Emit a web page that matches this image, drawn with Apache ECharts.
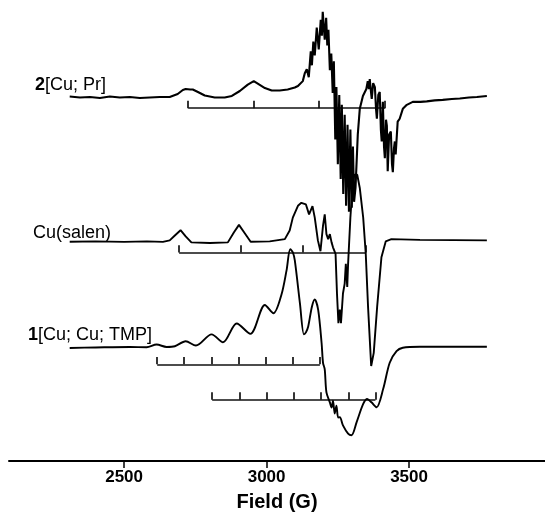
<!DOCTYPE html>
<html>
<head>
<meta charset="utf-8">
<script src="https://cdn.jsdelivr.net/npm/echarts@6/dist/echarts.min.js"></script>
<style>
  html, body { margin: 0; padding: 0; background: #fff; }
  #chart { width: 545px; height: 517px; }
</style>
</head>
<body>
<div id="chart"></div>
<script>
// Espectros EPR: [campo (G), intensidad (u.a.)]
const espectroPr = [
  [2309, 368.5], [2345, 367.5], [2380, 368], [2415, 367], [2450, 368.5], [2485, 367.5],
  [2520, 368], [2555, 367], [2590, 367.5], [2625, 368], [2660, 368], [2688, 371],
  [2706, 375], [2716, 376], [2723, 377], [2732, 375.5], [2741, 375.5], [2759, 373],
  [2783, 369.5], [2818, 367.5], [2853, 367.5], [2878, 369], [2906, 374], [2934, 380.5],
  [2955, 384], [2969, 381.5], [2994, 377], [3018, 374.5], [3046, 374.5], [3074, 375.5],
  [3099, 377.5], [3110, 379], [3117, 380.5], [3127, 384], [3134, 392], [3141, 396],
  [3148, 388], [3155, 414], [3159, 400], [3164, 424], [3169, 410], [3176, 438],
  [3183, 416], [3190, 446], [3194, 430], [3197, 454], [3204, 426], [3209, 448],
  [3213, 420], [3217, 436], [3222, 395], [3227, 412], [3232, 372], [3236, 404],
  [3241, 325], [3245, 378], [3250, 300], [3255, 370], [3260, 285], [3264, 360],
  [3269, 270], [3274, 350], [3279, 258], [3284, 340], [3289, 252], [3294, 335],
  [3299, 256], [3303, 318], [3307, 262], [3312, 276], [3320, 330], [3327, 356],
  [3338, 369], [3345, 368], [3350, 376],
  [3355, 384], [3359, 376], [3362, 386], [3366, 374], [3369, 366], [3374, 382],
  [3380, 378], [3384, 356], [3387, 346], [3392, 370], [3397, 373], [3401, 335],
  [3404, 323], [3408, 363], [3412, 318], [3415, 306], [3419, 345], [3422, 339],
  [3425, 293], [3430, 330], [3436, 333], [3440, 300], [3443, 292], [3447, 316],
  [3450, 323], [3453, 310], [3460, 343], [3467, 346], [3478, 356], [3492, 360],
  [3513, 363], [3540, 363], [3562, 363.5], [3590, 364.5], [3618, 365], [3650, 366],
  [3678, 366.5], [3710, 367.5], [3738, 368], [3773, 369]
];

const espectroSalen = [
  [2309, 221.7], [2400, 222], [2500, 221.5], [2580, 222], [2636, 221.5], [2660, 223],
  [2678, 228], [2698, 233.3], [2716, 227], [2736, 221], [2801, 220.3], [2864, 221],
  [2885, 231], [2903, 238.7], [2924, 230], [2944, 221.7], [3011, 222], [3064, 224.3],
  [3081, 233], [3092, 246], [3110, 258], [3122, 261], [3138, 259.3], [3149, 249.3],
  [3161, 257.7], [3169, 246], [3180, 223], [3189, 212], [3198, 238], [3204, 249.3],
  [3210, 229.3], [3216, 224.3], [3222, 229.3], [3228, 221], [3233, 216], [3242, 209.3],
  [3247, 169.3], [3252, 139.3], [3257, 153], [3261, 139.3], [3268, 169.3], [3274, 179.3],
  [3278, 199.3], [3283, 176], [3286, 199.3], [3294, 246], [3301, 276], [3308, 289.3],
  [3318, 289.3], [3327, 276], [3339, 246], [3348, 209.3], [3356, 156], [3367, 96],
  [3376, 109.3], [3388, 156], [3403, 206], [3418, 222], [3438, 224.3], [3538, 223.5],
  [3773, 223]
];

const espectroTmp = [
  [2309, 114.3], [2400, 114.8], [2520, 115.3], [2579, 115], [2614, 117.7], [2649, 115.3],
  [2678, 116], [2716, 121], [2752, 116.7], [2807, 128], [2847, 120], [2895, 139],
  [2943, 128.5], [2994, 157.7], [3024, 149.3], [3052, 168], [3070, 192.7], [3083, 214],
  [3092, 211], [3099, 202.7], [3117, 159.3], [3131, 128], [3138, 130], [3146, 136],
  [3159, 156], [3169, 163.3], [3181, 152.7], [3193, 119.3], [3198, 99.3], [3204, 92.7],
  [3210, 69.3], [3222, 59.3], [3228, 54], [3233, 61], [3239, 48], [3245, 56],
  [3251, 44], [3257, 44.3], [3268, 36], [3286, 27.7], [3298, 26], [3316, 39.3],
  [3339, 57.7], [3353, 62.7], [3368, 59.3], [3386, 54.3], [3409, 72.7], [3432, 99.3],
  [3456, 111], [3478, 114.5], [3538, 115.5], [3773, 115.5]
];

// Diagramas de barras (posiciones hiperfinas, G) y su nivel (u.a.)
const barrasPr = [2725, 2955, 3184, 3416];
const nivelPr = 356.7;
const barrasSalen = [2693, 2908, 3128, 3348];
const nivelSalen = 210.7;
const barrasTmpA = [2616, 2711, 2807, 2902, 2997, 3093, 3187];
const nivelTmpA = 97.7;
const barrasTmpB = [2809, 2905, 3001, 3097, 3190, 3287, 3382];
const nivelTmpB = 62;
const altoBarra = 7.5;

const marcasCampo = [2500, 3000, 3500];

const fuente = "'Liberation Sans', Arial, sans-serif";

// Construye los segmentos de un diagrama de barras
function segmentos(barras, nivel) {
  let segs = [{ coords: [[barras[0], nivel], [barras[barras.length - 1], nivel]] }];
  barras.forEach(b => {
    segs.push({ coords: [[b, nivel], [b, nivel + altoBarra]] });
  });
  return segs;
}

function serieEspectro(datos, suave, ancho) {
  return {
    type: 'line',
    data: datos,
    showSymbol: false,
    smooth: suave,
    lineStyle: { color: '#000', width: ancho },
    silent: true
  };
}

function serieBarras(barras, nivel) {
  return {
    type: 'lines',
    coordinateSystem: 'cartesian2d',
    data: segmentos(barras, nivel),
    lineStyle: { color: '#111', width: 1.7, opacity: 1 },
    silent: true
  };
}

echarts.init(document.querySelector("#chart")).setOption({
  animation: false,
  grid: { left: 9, right: 0, top: 0, bottom: 51 },
  xAxis: {
    type: 'value',
    min: 2096,
    max: 3977,
    name: 'Field (G)',
    nameLocation: 'middle',
    nameGap: 31,
    nameTextStyle: { fontFamily: fuente, fontSize: 20, fontWeight: 'bold', color: '#000' },
    axisLine: { lineStyle: { color: '#000', width: 2 } },
    axisTick: { customValues: marcasCampo, length: 7, lineStyle: { color: '#000', width: 1.5 } },
    axisLabel: {
      customValues: marcasCampo, fontFamily: fuente, fontSize: 17, fontWeight: 'bold', color: '#000', margin: 8,
      formatter: v => String(v)
    },
    splitLine: { show: false }
  },
  yAxis: {
    type: 'value',
    min: 0,
    max: 466,
    show: false
  },
  graphic: [
    {
      type: 'text', x: 35, y: 85,
      style: {
        text: '{b|2}{n|[Cu; Pr]}', verticalAlign: 'middle',
        rich: {
          b: { fontFamily: fuente, fontSize: 18, fontWeight: 'bold', fill: '#000' },
          n: { fontFamily: fuente, fontSize: 18, fill: '#000' }
        }
      }
    },
    {
      type: 'text', x: 33, y: 233,
      style: { text: 'Cu(salen)', verticalAlign: 'middle', fontFamily: fuente, fontSize: 18, fill: '#000' }
    },
    {
      type: 'text', x: 28, y: 335,
      style: {
        text: '{b|1}{n|[Cu; Cu; TMP]}', verticalAlign: 'middle',
        rich: {
          b: { fontFamily: fuente, fontSize: 18, fontWeight: 'bold', fill: '#000' },
          n: { fontFamily: fuente, fontSize: 18, fill: '#000' }
        }
      }
    }
  ],
  series: [
    serieEspectro(espectroPr, false, 2.1),
    serieEspectro(espectroSalen, false, 1.9),
    serieEspectro(espectroTmp, 0.3, 1.9),
    serieBarras(barrasPr, nivelPr),
    serieBarras(barrasSalen, nivelSalen),
    serieBarras(barrasTmpA, nivelTmpA),
    serieBarras(barrasTmpB, nivelTmpB)
  ]
});
</script>
</body>
</html>
